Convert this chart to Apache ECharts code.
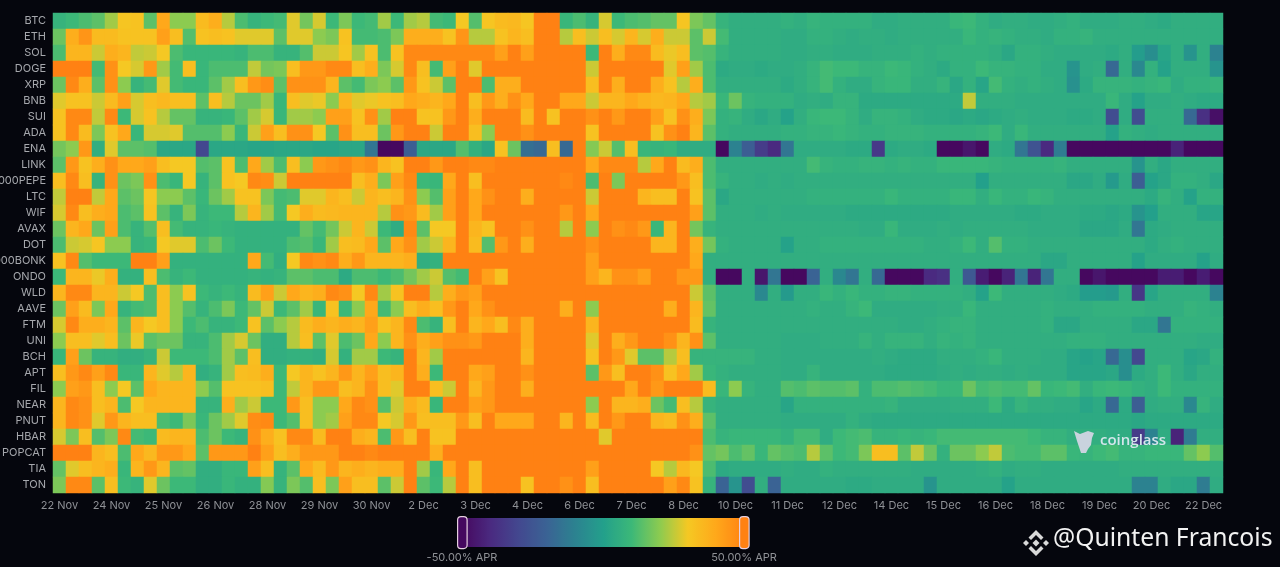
<!DOCTYPE html>
<html><head><meta charset="utf-8">
<style>html,body{margin:0;padding:0;background:#05060d}#c{width:1280px;height:567px}</style>
<script src="https://cdn.jsdelivr.net/npm/echarts@6/dist/echarts.min.js"></script>
</head><body><div id="c"></div>
<script>
const symbols=["BTC","ETH","SOL","DOGE","XRP","BNB","SUI","ADA","ENA","LINK","1000PEPE","LTC","WIF","AVAX","DOT","1000BONK","ONDO","WLD","AAVE","FTM","UNI","BCH","APT","FIL","NEAR","PNUT","HBAR","POPCAT","TIA","TON"];
const tickLabels=["22 Nov","24 Nov","25 Nov","26 Nov","28 Nov","29 Nov","30 Nov","2 Dec","3 Dec","4 Dec","6 Dec","7 Dec","8 Dec","10 Dec","11 Dec","12 Dec","14 Dec","15 Dec","16 Dec","18 Dec","19 Dec","20 Dec","22 Dec"];
const rangeLabels=["-50.00% APR","50.00% APR"];
const BTC=[8,10,12,14,22,31,32,14,40,20,20,34,38,24,12,8,10,11,28,17,27,10,18,10,11,22,10,22,24,11,10,30,13,31,34,35,31,50,50,9,12,8,27,10,12,13,15,15,31,18,15,8,6,6,6,6,7,6,8,7,7,7,7,5,5,6,6,6,6,9,10,7,5,6,6,5,5,6,7,5,5,5,6,6,5,4,6,6,6,6];
const ETH=[16,38,45,34,34,32,32,32,42,33,13,32,33,32,28,28,28,14,28,28,20,18,32,11,11,12,18,38,38,38,32,45,24,24,32,36,33,50,50,24,33,26,33,27,36,27,38,26,26,14,26,11,6,6,6,6,5,5,7,7,6,5,6,6,5,6,6,6,6,6,9,7,8,7,6,6,5,7,7,8,6,6,6,6,6,6,6,6,6,6];
const SOL=[12,36,36,26,38,36,25,26,30,12,9,9,9,9,8,12,12,8,8,13,26,26,31,22,32,12,32,48,48,48,48,48,48,48,42,50,42,50,50,50,50,10,50,38,48,48,34,29,33,14,13,8,6,6,6,6,5,5,6,6,5,5,5,6,6,6,7,6,7,7,7,7,6,3,7,7,6,5,5,5,5,4,6,-1,-6,2,6,-4,6,-10];
const DOGE=[50,50,50,11,46,30,27,44,22,11,33,9,12,12,12,25,17,18,33,44,44,48,48,33,38,18,27,48,33,11,42,50,28,50,50,50,50,50,50,50,50,26,50,50,50,50,50,28,42,22,12,4,5,5,4,5,5,6,8,11,10,10,8,8,10,9,7,6,4,7,7,10,8,8,7,7,5,5,-4,5,6,-18,6,-8,7,1,6,6,6,-4];
const XRP=[16,48,38,14,46,20,8,11,28,11,9,9,14,22,33,44,47,14,46,46,46,36,14,11,18,20,14,44,32,26,14,50,50,12,38,38,50,50,50,50,50,33,50,38,50,50,38,32,24,38,12,6,6,6,6,6,4,6,8,11,7,5,5,8,9,9,6,6,8,3,7,2,11,7,6,7,6,5,-5,4,8,8,8,7,8,9,5,7,7,8];
const BNB=[28,32,32,26,34,42,27,33,35,33,33,14,33,24,16,16,22,9,33,28,29,20,36,28,29,32,33,40,38,36,40,50,33,44,38,46,40,50,50,40,40,26,36,36,40,37,35,36,40,24,22,9,16,8,7,7,7,5,6,5,8,8,4,4,4,4,4,4,4,4,25,6,6,6,5,5,5,5,5,5,5,9,5,1,5,5,6,5,4,4];
const SUI=[32,48,48,25,48,10,27,32,24,15,15,8,8,9,14,22,27,9,22,22,20,42,42,32,46,22,50,50,32,32,44,50,38,50,50,50,34,50,32,50,50,46,50,44,50,50,42,32,46,38,18,7,8,5,3,5,1,6,9,10,10,8,5,8,8,7,5,4,4,3,4,3,4,5,6,5,5,5,4,4,5,-28,5,-28,6,6,6,-18,-38,-48];
const ADA=[32,48,34,18,32,40,9,27,27,28,13,13,13,20,9,26,42,33,46,46,30,14,46,33,33,16,44,50,50,26,50,50,33,20,50,50,46,50,50,50,50,32,50,50,50,50,32,46,50,36,14,7,6,6,6,6,7,7,8,8,9,8,7,7,8,8,8,7,7,7,7,8,10,5,9,6,6,6,6,6,6,1,7,6,5,6,6,6,6,6];
const ENA=[17,20,44,6,28,14,14,13,3,3,3,-30,3,3,3,2,2,3,3,3,2,2,3,3,-14,-50,-50,-22,3,3,3,13,7,3,32,16,-16,-18,33,-18,50,19,26,13,33,9,8,9,5,5,5,-50,-10,-22,-34,-40,-14,5,5,5,5,4,4,-35,4,5,5,4,-50,-50,-46,-50,5,4,-14,-26,-40,-12,-50,-50,-50,-50,-50,-50,-50,-50,-42,-50,-50,-50];
const LINK=[14,44,32,38,46,40,40,42,33,30,30,13,14,32,12,40,22,12,33,20,44,46,48,44,46,36,32,50,50,44,50,50,48,48,50,50,50,50,50,50,50,40,48,48,48,24,40,50,34,38,12,6,6,6,6,6,6,6,11,8,7,7,8,8,7,8,7,7,9,9,9,9,8,7,7,7,7,8,6,6,6,6,6,-4,6,3,6,6,6,6];
const PEPE=[33,48,33,8,46,16,18,46,12,9,30,8,14,32,30,48,47,26,50,50,50,50,50,33,38,18,42,48,10,9,40,50,33,50,50,50,50,50,50,48,50,12,50,18,50,50,50,50,44,33,12,8,6,6,5,6,5,6,6,6,6,6,6,6,6,6,6,6,6,6,6,0,6,6,6,6,6,6,3,3,5,-2,5,-22,1,3,7,7,6,3];
const LTC=[25,50,50,25,40,14,16,31,20,20,14,9,16,22,32,32,18,11,12,28,28,36,33,26,36,33,36,46,20,13,42,50,40,46,50,50,38,50,50,50,50,26,50,50,50,36,33,33,50,32,14,3,6,6,6,6,6,6,7,7,7,7,7,7,9,7,7,7,7,9,9,6,9,7,7,9,8,6,6,6,6,6,6,6,4,8,6,1,7,7];
const WIF=[27,48,33,38,40,12,14,32,14,8,18,8,10,10,24,36,22,11,30,38,34,35,36,36,36,24,46,44,34,22,42,50,40,50,50,50,50,50,50,44,50,40,50,50,50,50,50,50,50,42,14,6,6,6,5,6,5,5,5,5,5,4,4,4,4,4,4,4,4,5,5,5,5,5,4,4,5,5,5,4,4,3,4,-4,0,6,6,6,2,2];
const AVAX=[16,36,40,16,42,12,8,13,33,11,8,8,9,8,7,7,7,7,7,15,11,17,26,36,26,10,5,48,14,30,30,50,36,32,50,50,46,50,50,24,50,20,50,46,48,44,9,36,50,17,8,6,6,6,6,6,6,6,6,6,6,6,5,5,9,5,5,5,6,5,6,6,6,6,6,5,5,5,5,3,3,3,5,-14,4,5,6,6,6,6];
const DOT=[12,26,27,31,20,20,8,9,30,28,28,12,16,10,7,7,7,7,12,13,9,22,33,34,40,14,40,46,22,26,36,50,34,13,44,50,38,50,50,50,50,46,50,50,50,50,36,36,50,38,17,7,6,6,6,6,1,6,6,7,7,7,7,7,7,7,7,6,6,7,10,6,13,7,7,6,6,6,6,6,6,6,6,6,4,6,7,6,6,6];
const BONK=[32,48,13,10,10,10,50,50,42,7,7,7,7,7,7,40,11,6,30,48,46,48,38,44,36,36,36,38,6,7,50,50,50,50,50,50,50,50,50,50,50,42,50,50,50,50,50,50,50,40,6,6,6,6,6,6,6,6,6,6,6,6,6,6,6,6,6,6,6,6,6,6,6,6,6,6,3,3,6,6,6,6,6,1,5,5,5,5,1,5];
const ONDO=[10,36,36,29,38,7,7,33,12,8,10,7,7,7,7,8,7,8,14,14,12,12,4,12,12,10,12,17,22,26,13,11,50,42,32,50,50,50,50,50,50,42,36,46,46,42,50,50,44,44,6,-50,-50,6,-46,-14,-50,-50,-20,6,-8,-14,6,-18,-50,-50,-50,-40,-38,6,-24,-44,-50,-42,-14,-42,-14,6,6,-50,-46,-50,-50,-50,-50,-44,-44,-50,-44,-50];
const WLD=[36,48,48,36,36,26,30,12,33,20,32,10,8,10,8,34,42,26,40,36,38,48,46,30,48,22,32,50,50,24,38,44,42,50,50,50,50,50,50,50,50,50,50,50,50,50,50,50,50,26,14,6,6,6,-8,6,-2,6,6,9,7,9,7,7,8,8,7,7,7,7,6,1,10,6,6,6,6,5,4,-1,-1,-2,6,-36,2,6,6,6,6,-10];
const AAVE=[16,42,34,18,40,8,11,12,33,20,13,8,12,18,10,15,26,10,14,22,9,32,10,20,40,11,20,33,38,33,44,50,40,46,50,50,50,50,50,38,50,20,50,50,50,50,50,38,50,36,15,6,6,6,6,6,6,6,7,6,6,8,10,5,5,5,5,5,6,6,9,6,6,6,6,6,7,6,6,6,7,7,7,7,6,6,6,8,7,6];
const FTM=[27,48,38,38,36,14,36,30,33,20,10,12,8,8,10,32,14,20,24,34,38,36,38,36,42,32,36,48,12,8,33,50,36,40,33,48,38,50,50,50,50,36,50,50,50,50,50,50,50,34,8,6,6,6,6,6,6,6,6,6,6,6,6,6,6,5,5,6,7,8,8,6,6,6,6,6,7,3,3,6,6,6,6,3,3,-14,7,7,7,7];
const UNI=[20,33,33,28,33,16,29,14,16,16,8,8,12,22,27,16,6,6,24,33,14,28,12,16,40,20,36,46,38,42,46,46,44,50,50,50,38,50,50,50,50,28,50,38,44,50,50,46,36,46,14,6,6,6,6,6,5,5,5,6,6,6,8,6,8,8,8,6,8,7,8,6,6,6,6,6,6,6,7,7,7,6,6,6,6,6,6,6,5,5];
const BCH=[9,42,16,8,8,6,6,8,26,10,10,10,12,22,14,33,6,6,7,7,6,27,7,22,22,10,8,50,36,22,50,50,50,50,50,50,36,50,50,50,50,32,50,44,28,14,14,24,33,8,8,8,8,8,6,6,5,5,5,5,5,5,5,6,5,4,4,4,6,6,6,7,9,6,6,6,5,5,2,1,2,-18,-6,-30,6,6,6,2,3,7];
const APT=[33,44,48,42,48,9,9,36,28,24,36,6,8,22,33,34,38,10,30,36,32,36,44,36,42,33,36,50,38,10,50,50,40,42,50,50,46,50,50,50,50,14,44,33,50,50,46,32,40,22,9,7,6,6,6,6,5,5,8,5,5,5,5,5,4,4,4,4,5,6,5,6,6,5,6,5,5,5,2,2,2,3,-6,4,6,10,6,3,6,6];
const FIL=[20,42,44,33,20,30,14,40,36,36,36,20,13,32,32,32,33,10,25,36,44,44,33,36,46,33,28,50,50,33,26,50,36,44,50,50,38,50,50,50,50,50,50,50,40,50,44,50,50,50,34,9,20,8,6,6,13,12,14,13,13,14,7,12,12,13,12,11,9,9,16,11,12,11,11,15,9,10,11,6,9,10,9,7,6,10,7,7,7,7];
const NEAR=[36,48,46,33,36,12,30,36,36,36,36,8,8,38,22,26,10,10,44,33,20,20,40,48,46,13,26,38,34,9,50,50,42,44,50,50,50,50,50,50,50,20,50,36,36,38,16,11,33,24,8,6,6,6,6,6,2,7,7,7,7,7,7,7,8,5,5,5,5,6,6,6,10,4,8,6,6,5,5,2,4,-18,4,-22,5,6,6,-8,8,5];
const PNUT=[36,48,46,28,44,36,33,33,12,10,18,9,16,22,28,47,48,10,13,33,20,22,42,48,48,30,27,44,33,33,33,44,33,50,40,40,40,50,50,36,50,34,50,44,50,50,36,34,46,38,14,6,6,6,6,6,5,5,5,5,5,7,5,4,4,4,4,4,4,4,4,4,4,4,4,4,4,4,4,4,4,4,4,3,4,4,4,4,4,4];
const HBAR=[27,18,33,13,18,48,11,10,34,36,36,12,16,10,8,46,38,32,48,48,34,50,50,38,36,12,44,33,50,32,32,50,50,50,50,50,50,50,50,50,50,50,28,50,50,50,50,50,50,50,12,8,9,9,9,9,7,11,11,5,10,11,12,8,8,9,8,9,11,11,11,11,11,11,11,10,8,8,6,6,6,5,5,-34,-10,5,-42,-12,6,6];
const POPCAT=[50,50,50,36,33,12,40,35,44,44,40,14,44,44,44,50,42,33,38,44,44,44,50,50,48,50,50,50,50,38,50,50,50,50,50,50,50,50,50,50,50,50,50,50,50,50,50,50,50,46,15,17,12,15,9,15,13,12,24,14,10,11,18,33,33,14,25,16,7,16,16,20,25,12,11,11,14,14,9,8,10,11,8,8,9,9,9,15,20,13];
const TIA=[15,28,33,36,38,9,36,44,36,14,15,6,6,9,9,42,33,8,14,40,34,44,36,38,36,38,38,50,22,9,40,50,33,50,50,50,50,50,50,50,50,42,50,50,50,50,30,24,35,30,12,4,5,5,5,5,6,5,5,7,6,6,6,6,6,6,5,5,5,5,5,6,7,5,6,6,5,5,5,5,5,5,6,6,6,6,6,6,6,6];
const TON=[18,48,48,14,33,10,8,28,16,10,10,6,6,9,7,7,19,8,18,13,33,18,42,33,33,14,26,50,14,10,24,50,33,50,50,50,32,50,50,46,50,33,50,50,50,50,50,42,48,32,8,-20,-4,-28,6,-20,5,5,5,5,5,4,4,5,5,5,5,-4,5,5,5,5,5,1,5,5,5,5,5,5,5,5,5,-10,-10,5,3,3,-12,5];
const rows=[BTC,ETH,SOL,DOGE,XRP,BNB,SUI,ADA,ENA,LINK,PEPE,LTC,WIF,AVAX,DOT,BONK,ONDO,WLD,AAVE,FTM,UNI,BCH,APT,FIL,NEAR,PNUT,HBAR,POPCAT,TIA,TON];

const cells=[];
rows.forEach((r,y)=>r.forEach((v,x)=>cells.push([x,y,v])));
const cols=rows[0].length;
const xCats=[];
for(let i=0;i<cols;i++) xCats.push(i%4===0?tickLabels[i/4]:'\u200b'+i);
const font='Inter, "Noto Sans", sans-serif';
const handle='path://M90,0 H910 A90,90 0 0 1 1000,90 V180 A90,90 0 0 1 910,270 H90 A90,90 0 0 1 0,180 V90 A90,90 0 0 1 90,0 Z';
const chart=echarts.init(document.getElementById('c'),null,{renderer:'canvas'});
chart.setOption({
 animation:false,
 backgroundColor:'#05060d',
 grid:{left:53,top:13,width:1170,height:480,outerBoundsMode:'none',containLabel:false},
 tooltip:{show:false},
 xAxis:{type:'category',data:xCats,axisLine:{show:false},axisTick:{show:false},splitLine:{show:false},splitArea:{show:false},
  axisLabel:{interval:i=>i%4===0,color:'#8f9196',fontSize:11,fontFamily:font,margin:7,hideOverlap:false}},
 yAxis:{type:'category',inverse:true,data:symbols,axisLine:{show:false},axisTick:{show:false},splitLine:{show:false},splitArea:{show:false},
  axisLabel:{interval:0,color:'#a6a8ad',fontSize:11,fontFamily:font,margin:7}},
 visualMap:{type:'continuous',min:-50,max:50,orient:'horizontal',left:442,top:501,itemWidth:29,itemHeight:282,calculable:true,realtime:false,hoverLink:false,
  align:'top',
  formatter:()=>'',
  textStyle:{color:'#8f9196',fontSize:11,fontFamily:font},
  handleIcon:handle,handleSize:'106%',
  handleStyle:{color:'rgba(0,0,0,0)',borderColor:'#e6cfe0',borderWidth:1.2},
  indicatorSize:0,
  inRange:{color:['#46085f','#4a2a80','#43488f','#3a6394','#2c8290','#23a08b','#3cb878','#8ccb50','#f5c823','#ffa81a','#ff8113']}},
 series:[{type:'heatmap',data:cells,progressive:0,emphasis:{disabled:true},itemStyle:{borderWidth:0}}],
 graphic:[
  {type:'text',x:462,y:558,z:10,style:{text:rangeLabels[0],align:'center',verticalAlign:'middle',fill:'#8f9196',font:'11px '+font}},
  {type:'text',x:744,y:558,z:10,style:{text:rangeLabels[1],align:'center',verticalAlign:'middle',fill:'#8f9196',font:'11px '+font}},
  {type:'text',x:1100,y:433,z:10,style:{text:'coinglass',fill:'#d4e6ea',font:'600 15px "Open Sans", sans-serif'}},
  {type:'polygon',z:10,shape:{points:[[1074,431],[1080,434],[1088,431],[1094,433],[1092,438],[1091,445],[1088,449],[1086,453],[1081,453],[1079,447],[1077,441]]},style:{fill:'#c9d3de'}},
  {type:'text',x:1053,y:526,z:10,style:{text:'@Quinten Francois',fill:'#f2f2f2',font:'24.7px "Noto Sans", sans-serif'}},
  {type:'polygon',z:10,shape:{points:[[1036,530],[1043.5,537.5],[1041,540],[1036,535],[1031,540],[1028.5,537.5]]},style:{fill:'#d9d9d9'}},
  {type:'polygon',z:10,shape:{points:[[1036,556],[1043.5,548.5],[1041,546],[1036,551],[1031,546],[1028.5,548.5]]},style:{fill:'#d9d9d9'}},
  {type:'polygon',z:10,shape:{points:[[1036,539.5],[1039.5,543],[1036,546.5],[1032.5,543]]},style:{fill:'#d9d9d9'}},
  {type:'polygon',z:10,shape:{points:[[1026,540],[1029,543],[1026,546],[1023,543]]},style:{fill:'#d9d9d9'}},
  {type:'polygon',z:10,shape:{points:[[1046,540],[1049,543],[1046,546],[1043,543]]},style:{fill:'#d9d9d9'}}
 ]
});
</script></body></html>
